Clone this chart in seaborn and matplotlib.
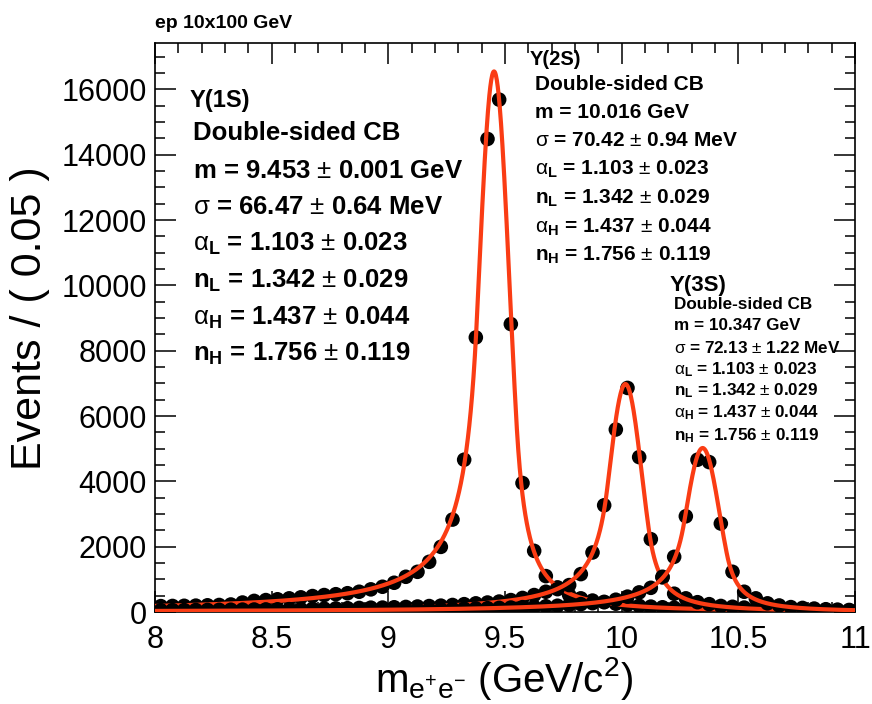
import numpy as np
import pandas as pd
import matplotlib
matplotlib.use('Agg')
import matplotlib.pyplot as plt
from matplotlib.ticker import MultipleLocator
import seaborn as sns

# ========== 0. Data ==========
BIN_WIDTH = 0.05
bin_centers = np.round(np.arange(8.025, 11.0, BIN_WIDTH), 3)

events_1s = [180, 185, 190, 195, 205, 215, 230, 290, 340, 365,
             390, 418, 449, 488, 519, 545, 575, 620, 693, 773,
             895, 1078, 1230, 1536, 1994, 2830, 4662, 8406, 14482, 15686,
             8815, 3948, 1872, 1099, 754, 520, 418, 350, 300, 255,
             220, 190, 165, 145, 130, 115, 105, 95, 88, 80,
             74, 68, 63, 58, 55, 51, 48, 45, 42, 40]

events_2s = [56, 58, 60, 62, 64, 67, 70, 73, 76, 79,
             83, 87, 92, 97, 103, 109, 116, 124, 133, 135,
             145, 155, 168, 182, 195, 215, 240, 265, 290, 320,
             365, 430, 519, 620, 700, 824, 1160, 1822, 3267, 5587,
             6860, 4742, 2229, 1059, 560, 418, 300, 240, 185, 160,
             135, 118, 105, 94, 84, 76, 68, 62, 56, 52]

events_3s = [33, 34, 35, 36, 37, 38, 40, 41, 42, 44,
             46, 48, 50, 52, 54, 57, 60, 63, 66, 70,
             72, 76, 80, 85, 90, 96, 103, 110, 117, 126,
             136, 148, 160, 175, 192, 214, 240, 270, 310, 376,
             470, 600, 740, 1079, 1689, 2931, 4662, 4589, 2708, 1231,
             620, 418, 265, 200, 150, 125, 105, 85, 72, 62]

# fit results, double-sided crystal ball
states = ['1S', '2S', '3S']
fit_mass = [9.453, 10.016, 10.347]
fit_sigma = [0.06647, 0.07042, 0.07213]
fit_peak = [16550, 6980, 5020]
alpha_l, n_l = 1.103, 1.342
alpha_h, n_h = 1.437, 1.756

title_text = 'ep 10x100 GeV'
labels_1s = ['Y(1S)', 'Double-sided CB',
             r'm = 9.453 $\pm$ 0.001 GeV',
             r'$\sigma$ = 66.47 $\pm$ 0.64 MeV',
             r'$\alpha_{\mathbf{L}}$ = 1.103 $\pm$ 0.023',
             r'n$_{\mathbf{L}}$ = 1.342 $\pm$ 0.029',
             r'$\alpha_{\mathbf{H}}$ = 1.437 $\pm$ 0.044',
             r'n$_{\mathbf{H}}$ = 1.756 $\pm$ 0.119']
labels_2s = ['Y(2S)', 'Double-sided CB',
             r'm = 10.016 GeV',
             r'$\sigma$ = 70.42 $\pm$ 0.94 MeV',
             r'$\alpha_{\mathbf{L}}$ = 1.103 $\pm$ 0.023',
             r'n$_{\mathbf{L}}$ = 1.342 $\pm$ 0.029',
             r'$\alpha_{\mathbf{H}}$ = 1.437 $\pm$ 0.044',
             r'n$_{\mathbf{H}}$ = 1.756 $\pm$ 0.119']
labels_3s = ['Y(3S)', 'Double-sided CB',
             r'm = 10.347 GeV',
             r'$\sigma$ = 72.13 $\pm$ 1.22 MeV',
             r'$\alpha_{\mathbf{L}}$ = 1.103 $\pm$ 0.023',
             r'n$_{\mathbf{L}}$ = 1.342 $\pm$ 0.029',
             r'$\alpha_{\mathbf{H}}$ = 1.437 $\pm$ 0.044',
             r'n$_{\mathbf{H}}$ = 1.756 $\pm$ 0.119']


def dscb(x, m, s, aL, nL, aH, nH):
    t = (x - m) / s
    y = np.exp(-0.5 * t**2)
    lo = t < -aL
    hi = t > aH
    y[lo] = np.exp(-0.5 * aL**2) * (aL / nL * (nL / aL - aL - t[lo]))**(-nL)
    y[hi] = np.exp(-0.5 * aH**2) * (aH / nH * (nH / aH - aH + t[hi]))**(-nH)
    return y


# ========== 1. Style ==========
sns.set_theme(style='ticks')
plt.rcParams['font.family'] = ['Liberation Sans', 'DejaVu Sans']
plt.rcParams['mathtext.fontset'] = 'custom'
plt.rcParams['mathtext.rm'] = 'Liberation Sans'
plt.rcParams['mathtext.it'] = 'Liberation Sans'
plt.rcParams['mathtext.sf'] = 'Liberation Sans'
plt.rcParams['mathtext.bf'] = 'Liberation Sans:bold'
plt.rcParams['mathtext.default'] = 'rm'

W, H = 872, 704
fig = plt.figure(figsize=(W / 100, H / 100), dpi=100)
ax = fig.add_axes([155 / W, 1 - 612 / H, 700 / W, 569 / H])
ax.set_facecolor('white')

CURVE_COLOR = '#fa3c14'
x_fine = np.linspace(8.0, 11.0, 1500)

# ========== 2. Data points + fit curves ==========
for i, (st, ev) in enumerate(zip(states, [events_1s, events_2s, events_3s])):
    df = pd.DataFrame({'mass': bin_centers, 'events': ev})
    sns.scatterplot(data=df, x='mass', y='events', color='black', s=110,
                    edgecolor='none', ax=ax, zorder=2 + 2 * i, legend=False)
    curve = pd.DataFrame({'mass': x_fine,
                          'events': fit_peak[i] * dscb(x_fine, fit_mass[i], fit_sigma[i],
                                                       alpha_l, n_l, alpha_h, n_h)})
    sns.lineplot(data=curve, x='mass', y='events', color=CURVE_COLOR, lw=3,
                 ax=ax, zorder=3 + 2 * i, sort=False, estimator=None)

ax.set_xlim(8, 11)
ax.set_ylim(0, 17420)
ax.xaxis.set_major_locator(MultipleLocator(0.5))
ax.xaxis.set_minor_locator(MultipleLocator(0.1))
ax.yaxis.set_major_locator(MultipleLocator(2000))
ax.yaxis.set_minor_locator(MultipleLocator(500))
ax.xaxis.set_major_formatter(matplotlib.ticker.FuncFormatter(lambda v, p: f'{v:g}'))
ax.tick_params(which='both', direction='in', top=True, right=True, width=1.1,
               color='black', labelsize=22, labelcolor='black')
ax.tick_params(which='major', length=15)
ax.tick_params(which='minor', length=7.5)
ax.tick_params(axis='x', pad=9)
ax.tick_params(axis='y', pad=6)
for sp in ax.spines.values():
    sp.set_linewidth(1.2)
    sp.set_color('black')
ax.set_xlabel('')
ax.set_ylabel('')

# ========== 3. Texts ==========
def put(x, y, s, size, weight='bold', **kw):
    # y = visual centre in pixels from top
    fig.text(x / W, 1 - (y + 0.36 * size * 100 / 72) / H, s, fontsize=size,
             fontweight=weight, va='baseline', ha='left', color='black', **kw)


put(155, 21, title_text, 14)

fig.text(30 / W, 1 - 318 / H, 'Events / ( 0.05 )', fontsize=31, rotation=90,
         ha='center', va='center', color='black')
fig.text(504 / W, 1 - 678 / H, r'm$_{\mathregular{e^{+}e^{-}}}$ (GeV/c$^{2}$)',
         fontsize=29, ha='center', va='center', color='black')

ys_1s = [98, 131, 169, 205, 242, 279, 316, 352]
for k, (s, y) in enumerate(zip(labels_1s, ys_1s)):
    put(190 if k == 0 else 193, y, s, 17 if k == 0 else 18.5)

ys_2s = [58, 82, 110, 138, 167, 196, 225, 253]
for k, (s, y) in enumerate(zip(labels_2s, ys_2s)):
    put(530 if k == 0 else 535, y, s, 14.5 if k == 0 else 15)

ys_3s = [283, 303, 324, 347, 368, 389, 411, 434]
for k, (s, y) in enumerate(zip(labels_3s, ys_3s)):
    put(670 if k == 0 else 674, y, s, 16 if k == 0 else 12.3)

fig.savefig('out.png', dpi=100)
